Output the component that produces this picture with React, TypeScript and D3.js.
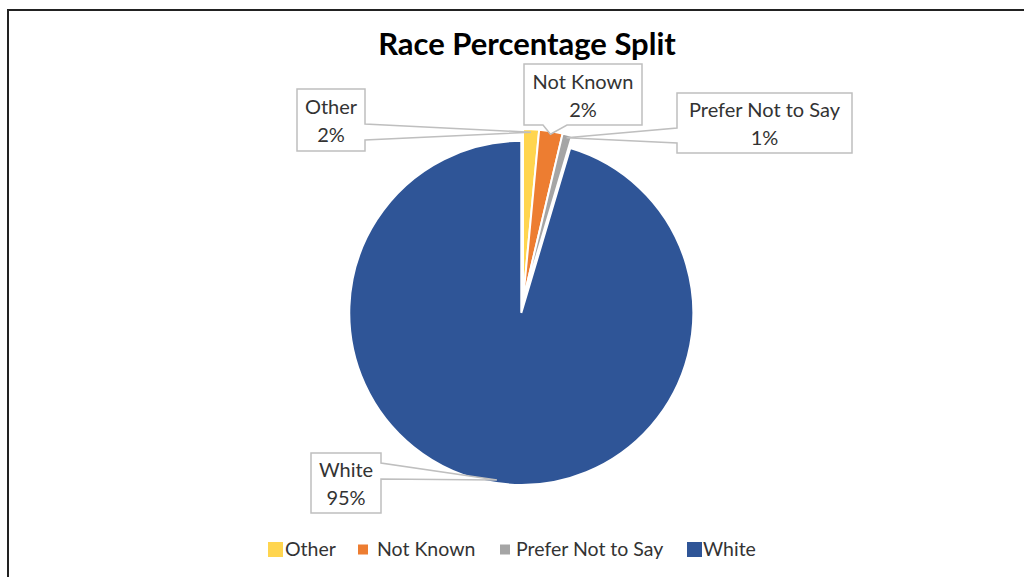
import React from "react";
import * as d3 from "d3";

const title = "Race Percentage Split";
const categories = ["Other", "Not Known", "Prefer Not to Say", "White"];
const values = [1.5, 2.2, 0.9, 95.4];
const colors = ["#FFD54F", "#ED7D31", "#A5A5A5", "#2F5597"];

const W = 1024;
const H = 577;
const CX = 523;
const CY = 301;
const R = 172;
const explode = [0, 0, 0, 12];

type Callout = { x: number; y: number; w: number; h: number; side: "left" | "right" | "bottom"; b1: number; b2: number };
const callouts: Callout[] = [
  { x: 297, y: 89, w: 68, h: 62, side: "right", b1: 124, b2: 140 },
  { x: 524, y: 64, w: 118, h: 61, side: "bottom", b1: 543, b2: 567 },
  { x: 677, y: 93, w: 175, h: 60, side: "left", b1: 128, b2: 143 },
  { x: 311, y: 453, w: 70, h: 60, side: "right", b1: 463, b2: 479 },
];

const legendSquares = [15, 10, 10, 15];
const legendX = [268, 358, 500, 687];
const legendTextX = [285, 377, 516, 703];

const FONT = "Lato, 'Open Sans', sans-serif";

function calloutPath(c: Callout, tx: number, ty: number) {
  const { x, y, w, h } = c;
  const r = x + w;
  const b = y + h;
  if (c.side === "right") {
    return `M${x},${y}H${r}V${c.b1}L${tx},${ty}L${r},${c.b2}V${b}H${x}Z`;
  }
  if (c.side === "left") {
    return `M${x},${y}H${r}V${b}H${x}V${c.b2}L${tx},${ty}L${x},${c.b1}Z`;
  }
  return `M${x},${y}H${r}V${b}H${c.b2}L${tx},${ty}L${c.b1},${b}H${x}Z`;
}

export default function App() {
  const pie = d3
    .pie<number>()
    .sort(null)
    .value((d) => d)
    .startAngle(0)
    .endAngle(2 * Math.PI);
  const arcs = pie(values);
  const arcGen = d3.arc<d3.PieArcDatum<number>>().innerRadius(0).outerRadius(R);
  const total = d3.sum(values);

  return (
    <svg width={W} height={H} style={{ position: "absolute", left: 0, top: 0, display: "block" }}>
      <rect x={0} y={0} width={W} height={H} fill="#fff" />
      <rect x={8} y={10} width={W + 20} height={H + 20} fill="none" stroke="#222" strokeWidth={2} />
      <text x={527} y={55} textAnchor="middle" fontFamily={FONT} fontWeight={700} fontSize={31} fill="#000">
        {title}
      </text>
      {arcs.map((a, i) => {
        const mid = (a.startAngle + a.endAngle) / 2;
        const dx = explode[i] * Math.sin(mid);
        const dy = -explode[i] * Math.cos(mid);
        return (
          <path
            key={i}
            d={arcGen(a) || ""}
            transform={`translate(${CX + dx},${CY + dy})`}
            fill={colors[i]}
            stroke="#fff"
            strokeWidth={2}
          />
        );
      })}
      {arcs.map((a, i) => {
        const mid = (a.startAngle + a.endAngle) / 2;
        const off = explode[i];
        const rr = R - 3 + off;
        const tx = CX + rr * Math.sin(mid);
        const ty = CY - rr * Math.cos(mid);
        const c = callouts[i];
        const cx = c.x + c.w / 2;
        const cy = c.y + c.h / 2;
        const pct = Math.round((values[i] / total) * 100) + "%";
        return (
          <g key={"l" + i}>
            <path d={calloutPath(c, tx, ty)} fill="#fff" stroke="#BFBFBF" strokeWidth={1.5} />
            <text x={cx} y={cy - 6} textAnchor="middle" fontFamily={FONT} fontSize={20} fill="#333">
              {categories[i]}
            </text>
            <text x={cx} y={cy + 22} textAnchor="middle" fontFamily={FONT} fontSize={20} fill="#333">
              {pct}
            </text>
          </g>
        );
      })}
      {categories.map((c, i) => {
        const s = legendSquares[i];
        return (
          <g key={"lg" + i}>
            <rect x={legendX[i]} y={549.5 - s / 2} width={s} height={s} fill={colors[i]} />
            <text x={legendTextX[i]} y={556} fontFamily={FONT} fontSize={19.5} fill="#333">
              {c}
            </text>
          </g>
        );
      })}
    </svg>
  );
}
